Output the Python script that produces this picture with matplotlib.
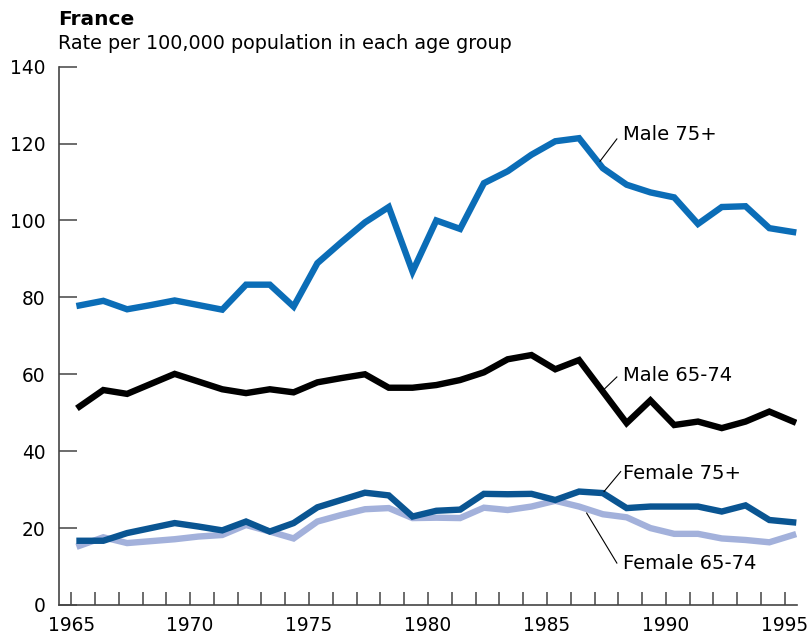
import numpy as np
import matplotlib
matplotlib.use("Agg")
import matplotlib.pyplot as plt

years = np.arange(1965, 1996)

male_75 = [77.9, 79.1, 76.9, 78.0, 79.2, 78.0, 76.8, 83.3, 83.3, 77.6,
           88.9, 94.3, 99.5, 103.5, 86.7, 100.0, 97.8, 109.7, 112.8, 117.1,
           120.6, 121.4, 113.6, 109.3, 107.3, 106.0, 99.1, 103.5, 103.7, 98.0, 97.0]
male_65_74 = [51.6, 55.9, 54.9, 57.5, 60.1, 58.1, 56.1, 55.1, 56.1, 55.3,
              57.9, 59.0, 60.0, 56.5, 56.5, 57.2, 58.5, 60.5, 63.9, 65.0,
              61.3, 63.7, 55.5, 47.3, 53.2, 46.8, 47.7, 46.0, 47.7, 50.3, 47.7]
female_75 = [16.7, 16.7, 18.7, 20.0, 21.3, 20.4, 19.4, 21.7, 19.1, 21.3,
             25.4, 27.3, 29.2, 28.5, 23.0, 24.5, 24.8, 28.9, 28.8, 28.9,
             27.3, 29.5, 29.1, 25.2, 25.6, 25.6, 25.6, 24.3, 25.9, 22.1, 21.5]
female_65_74 = [15.4, 17.6, 16.1, 16.6, 17.1, 17.8, 18.2, 20.8, 19.1, 17.3,
                21.7, 23.4, 24.9, 25.2, 22.6, 22.7, 22.6, 25.3, 24.7, 25.6,
                27.1, 25.6, 23.6, 22.8, 20.0, 18.5, 18.5, 17.3, 16.9, 16.3, 18.2]

plt.rcParams['font.family'] = ['DejaVu Sans']
FS = 13.4

fig = plt.figure(figsize=(8.09, 6.41), dpi=100)
ax = fig.add_axes([0.0733, 0.0562, 0.9115, 0.8398])

# points sit a bit right of the year ticks
x = years + 0.35
lw = 4.6
ax.plot(x, female_65_74, color="#a3b1db", lw=lw, solid_joinstyle="miter")
ax.plot(x, female_75, color="#0a5592", lw=lw, solid_joinstyle="miter")
ax.plot(x, male_65_74, color="black", lw=lw, solid_joinstyle="miter")
ax.plot(x, male_75, color="#0b6db7", lw=lw, solid_joinstyle="miter")

# labels with leader lines
labels = [("Male 75+", 122.3, (1987.94, 121.2), (1987.23, 115.4)),
          ("Male 65-74", 59.6, (1987.94, 59.3), (1987.37, 55.9)),
          ("Female 75+", 34.2, (1988.1, 34.7), (1987.4, 29.5)),
          ("Female 65-74", 10.7, (1987.94, 10.9), (1986.67, 23.9))]
for name, ty, p1, p2 in labels:
    ax.plot([p1[0], p2[0]], [p1[1], p2[1]], color="black", lw=0.8)
    ax.text(1988.2, ty, name, fontsize=14, ha="left", va="center")

ax.set_xlim(1964.5, 1995.5)
ax.set_ylim(0, 140)
ax.set_xticks(years)
ax.set_xticklabels([str(y) if y % 5 == 0 else "" for y in years])
ax.set_yticks(np.arange(0, 141, 20))

for s in ["top", "right"]:
    ax.spines[s].set_visible(False)
for s in ["left", "bottom"]:
    ax.spines[s].set_color("#444444")
    ax.spines[s].set_linewidth(1.2)

ax.tick_params(axis="y", direction="in", length=13, width=1.1, color="#444444",
               pad=10, labelsize=FS)
ax.tick_params(axis="x", direction="in", length=9.5, width=1.1, color="#444444",
               pad=8, labelsize=FS)

fig.text(0.0717, 0.961, "France", fontsize=14.5, fontweight="bold", ha="left", va="baseline")
fig.text(0.0717, 0.923, "Rate per 100,000 population in each age group", fontsize=13.8,
         ha="left", va="baseline")

fig.savefig("out.png", dpi=100)
